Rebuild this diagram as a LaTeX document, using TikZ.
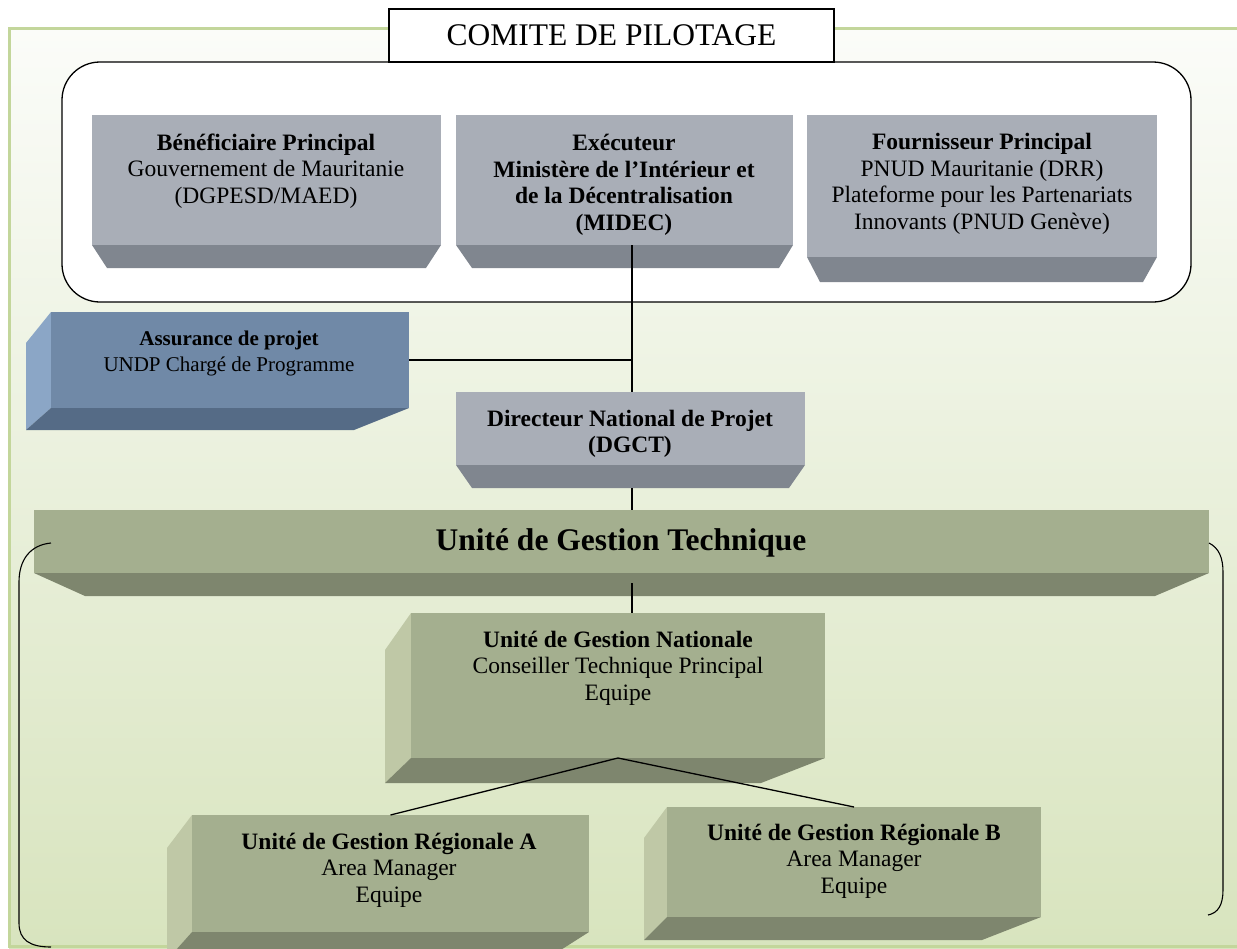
\documentclass[tikz,border=0pt]{standalone}
\usepackage{fontspec}
\setmainfont{Liberation Serif}
\begin{document}
\begin{tikzpicture}[x=1pt,y=-1pt,
  face/.style={draw=none, inner sep=0, outer sep=0},
  txt/.style={align=center, inner sep=0, font=\fontsize{23.5}{26.5}\selectfont},
  conn/.style={draw=black, line width=1.3pt},
  brace/.style={draw=black, line width=1.1pt}]
\definecolor{grayF}{HTML}{A9AEB7}
\definecolor{grayB}{HTML}{80868F}
\definecolor{blueF}{HTML}{7089A7}
\definecolor{blueL}{HTML}{8BA6C6}
\definecolor{blueB}{HTML}{556B86}
\definecolor{greenF}{HTML}{A4AF8F}
\definecolor{greenL}{HTML}{BFC8A6}
\definecolor{greenB}{HTML}{7E866E}
\definecolor{frameG}{HTML}{C3D69B}
\definecolor{bgTop}{HTML}{FBFCF9}
\definecolor{bgMid}{HTML}{EEF2E6}
\definecolor{bgBot}{HTML}{D8E4BE}
\useasboundingbox (0,0) rectangle (1237,948);
\fill[white] (0,0) rectangle (1237,948);
% background frame
\shade[top color=bgTop, middle color=bgMid, bottom color=bgBot] (9,28) rectangle (1245,948);
\draw[frameG, line width=3pt] (1250,28) -- (9,28) -- (9,946) -- (1250,946);
% comite rounded box
\draw[fill=white, draw=black, line width=1.3pt, rounded corners=38pt] (62,62) rectangle (1191,302);
% title
\node[draw=black, fill=white, line width=2.2pt, minimum width=445, minimum height=53, inner sep=0,
  font=\fontsize{31.5}{34}\selectfont] (title) at (611.5,35.5) {COMITE DE PILOTAGE};

% ---- top boxes
\fill[grayB] (92,245) -- (441,245) -- (426,268) -- (107,268) -- cycle;
\node[face, fill=grayF, minimum width=349, minimum height=130] (b1) at (266.5,180) {};
\fill[grayB] (456,245) -- (793,245) -- (779,268) -- (472,268) -- cycle;
\node[face, fill=grayF, minimum width=337, minimum height=130] (b2) at (624.5,180) {};
\fill[grayB] (807,257) -- (1157,257) -- (1143,282) -- (820,282) -- cycle;
\node[face, fill=grayF, minimum width=350, minimum height=142] (b3) at (982,186) {};

% ---- assurance
\fill[blueL] (51,312) -- (26,343) -- (26,430) -- (51,408) -- cycle;
\fill[blueB] (51,408) -- (409,408) -- (354,430) -- (26,430) -- cycle;
\node[face, fill=blueF, minimum width=358, minimum height=96] (as) at (230,360) {};

% ---- directeur
\fill[grayB] (456,465) -- (805,465) -- (789,488) -- (472,488) -- cycle;
\node[face, fill=grayF, minimum width=349, minimum height=73] (dg) at (630.5,428.5) {};

% ---- UGT bar
\fill[greenB] (34,573) -- (1209,573) -- (1155,596) -- (85,596) -- cycle;
\node[face, fill=greenF, minimum width=1175, minimum height=63] (ugt) at (621.5,541.5) {};

% ---- UGN
\fill[greenL] (411,613) -- (385,650) -- (385,783) -- (411,758) -- cycle;
\fill[greenB] (411,758) -- (825,758) -- (761,783) -- (385,783) -- cycle;
\node[face, fill=greenF, minimum width=414, minimum height=145] (ugn) at (618,685.5) {};

% ---- regional A
\fill[greenL] (192,815) -- (167,848) -- (167,960) -- (192,932) -- cycle;
\fill[greenB] (192,932) -- (589,932) -- (545,960) -- (167,960) -- cycle;
\node[face, fill=greenF, minimum width=397, minimum height=117] (ra) at (390.5,873.5) {};

% ---- regional B
\fill[greenL] (667,807) -- (644,838) -- (644,940) -- (667,917) -- cycle;
\fill[greenB] (667,917) -- (1041,917) -- (982,940) -- (644,940) -- cycle;
\node[face, fill=greenF, minimum width=374, minimum height=110] (rb) at (854,862) {};

% ---- connectors
\coordinate (dgb) at (632,488);
\coordinate (ugtb) at (632,583);
\draw[conn] (b2.south -| dgb) -- (dgb |- dg.north);
\draw[conn] (as.east) -- (as.east -| dgb);
\draw[conn] (dgb) -- (dgb |- ugt.north);
\draw[conn] (ugtb) -- (ugtb |- ugn.north);
\draw[conn] (ugn.south) -- (ra.north);
\draw[conn] (ugn.south) -- (rb.north);

% ---- brackets
\draw[brace] (51,543) .. controls (30,545) and (19,560) .. (19,582) -- (19,923) .. controls (19,940) and (30,947) .. (51,947);
\draw[brace] (1209,543) .. controls (1219,548) and (1223,558) .. (1223,572) -- (1223,890) .. controls (1223,905) and (1218,913) .. (1208,915);

% ---- texts
\node[txt] (t1) at (266,171) {\textbf{Bénéficiaire Principal}\\Gouvernement de Mauritanie\\(DGPESD/MAED)};
\node[txt] (t2) at (624,185) {\textbf{Exécuteur}\\\textbf{Ministère de l’Intérieur et}\\\textbf{de la Décentralisation}\\\textbf{(MIDEC)}};
\node[txt] (t3) at (982,184) {\textbf{Fournisseur Principal}\\PNUD Mauritanie (DRR)\\Plateforme pour les Partenariats\\Innovants (PNUD Genève)};
\node[txt, font=\fontsize{21}{26}\selectfont] (tas) at (229,353) {\textbf{Assurance de projet}\\UNDP Chargé de Programme};
\node[txt] (tdg) at (630,434) {\textbf{Directeur National de Projet}\\\textbf{(DGCT)}};
\node[txt, font=\fontsize{31.5}{34}\selectfont] (tugt) at (621,543) {\textbf{Unité de Gestion Technique}};
\node[txt] (tugn) at (618,668) {\textbf{Unité de Gestion Nationale}\\Conseiller Technique Principal\\Equipe};
\node[txt] (tra) at (389,870) {\textbf{Unité de Gestion Régionale A}\\Area Manager\\Equipe};
\node[txt] (trb) at (854,861) {\textbf{Unité de Gestion Régionale B}\\Area Manager\\Equipe};
\end{tikzpicture}
\end{document}
